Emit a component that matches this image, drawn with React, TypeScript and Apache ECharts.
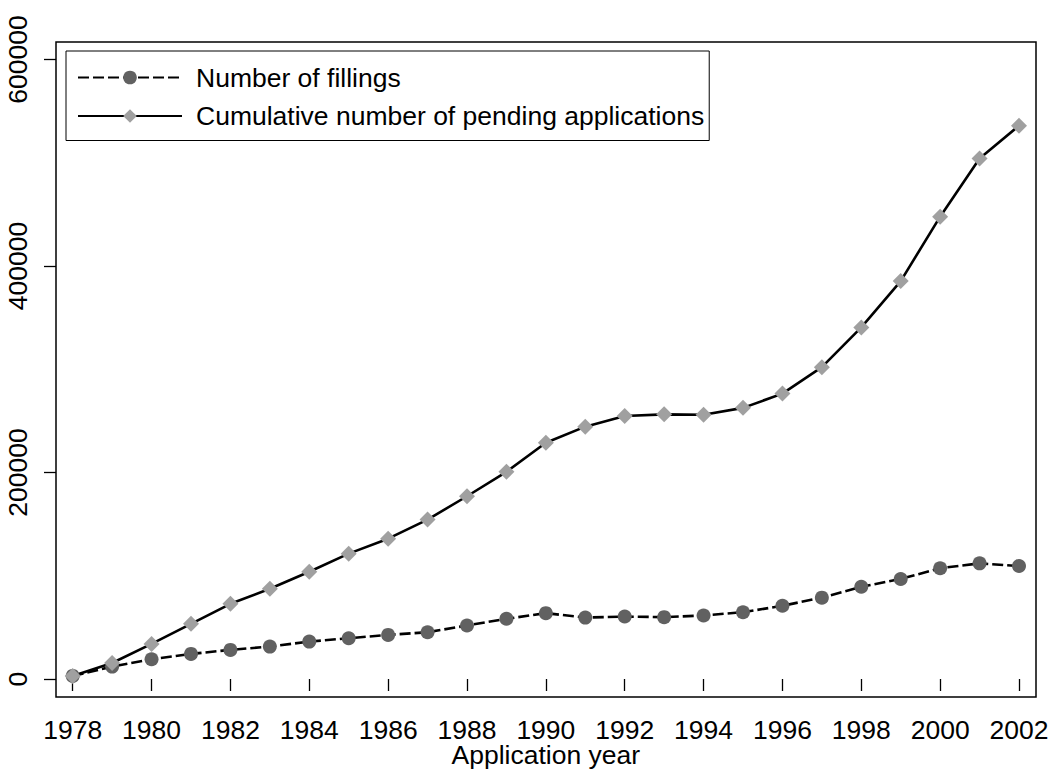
import React, { useEffect, useRef } from "react";
import * as echarts from "echarts";

const years = [1978, 1979, 1980, 1981, 1982, 1983, 1984, 1985, 1986, 1987, 1988, 1989, 1990, 1991, 1992, 1993, 1994, 1995, 1996, 1997, 1998, 1999, 2000, 2001, 2002];
const fillings = [3000, 12000, 19100, 24300, 28200, 31400, 36200, 39500, 42700, 45300, 51800, 58300, 63800, 59500, 60500, 59900, 61500, 64700, 70900, 78800, 89300, 96900, 107300, 112000, 109400];
const pending = [3000, 15500, 34000, 53400, 72800, 87400, 103900, 121400, 135900, 154400, 177000, 200700, 228800, 244400, 254700, 256300, 255900, 262600, 276400, 302000, 340500, 385400, 447800, 504200, 535900];
const seriesNames = ["Number of fillings", "Cumulative number of pending applications"];
const xTitle = "Application year";

const FONT = "'Liberation Sans', Arial, Helvetica, sans-serif";

export default function App() {
  const ref = useRef<HTMLDivElement>(null);
  useEffect(() => {
    if (!ref.current) return;
    const chart = echarts.init(ref.current, undefined, { renderer: "svg" });
    const fs = 26.5;
    chart.setOption({
      animation: false,
      backgroundColor: "#ffffff",
      textStyle: { fontFamily: FONT },
      grid: { left: 72.7, right: 32, top: 59.5, bottom: 90, outerBoundsMode: "none" },
      legend: {
        show: true,
        orient: "vertical",
        left: 66,
        top: 51,
        itemWidth: 104,
        itemHeight: 17,
        itemGap: 11.5,
        padding: [13, 5, 11, 11],
        borderColor: "#000",
        borderWidth: 1,
        backgroundColor: "#fff",
        textStyle: { fontSize: fs, color: "#000", fontFamily: FONT, padding: [0, 0, 0, 9] },
        data: seriesNames,
      },
      xAxis: {
        type: "value",
        min: 1978,
        max: 2002,
        interval: 2,
        offset: 18,
        name: xTitle,
        nameLocation: "middle",
        nameGap: 47,
        nameMoveOverlap: false,
        nameTextStyle: { fontSize: fs, lineHeight: 22, color: "#000", fontFamily: FONT },
        axisLine: { show: false },
        axisTick: { show: true, length: 12, lineStyle: { color: "#000", width: 1.3 } },
        axisLabel: { fontSize: fs, lineHeight: 22, color: "#000", fontFamily: FONT, margin: 21.5, formatter: (v: number) => String(v) },
        splitLine: { show: false },
      },
      yAxis: {
        type: "value",
        min: 0,
        max: 600000,
        interval: 200000,
        offset: 16.7,
        axisLine: { show: false },
        axisTick: { show: true, length: 12, lineStyle: { color: "#000", width: 1.3 } },
        axisLabel: { fontSize: fs, color: "#000", fontFamily: FONT, margin: 25, rotate: 90, formatter: (v: number) => String(v) },
        splitLine: { show: false },
      },
      graphic: [
        {
          type: "rect",
          z: 0,
          silent: true,
          shape: { x: 56, y: 42, width: 980, height: 655 },
          style: { fill: "none", stroke: "#000", lineWidth: 1.5 },
        },
      ],
      series: [
        {
          name: seriesNames[0],
          type: "line",
          clip: false,
          data: years.map((y, i) => [y, fillings[i]]),
          symbol: "circle",
          symbolSize: 14,
          itemStyle: { color: "#616161" },
          lineStyle: { color: "#000", width: 2.6, type: [11, 4] },
        },
        {
          name: seriesNames[1],
          type: "line",
          clip: false,
          data: years.map((y, i) => [y, pending[i]]),
          symbol: "diamond",
          symbolSize: 16,
          itemStyle: { color: "#a0a0a0" },
          lineStyle: { color: "#000", width: 2.6, type: "solid" },
        },
      ],
    });
    return () => chart.dispose();
  }, []);
  return <div ref={ref} style={{ position: "fixed", left: 0, top: 0, width: 1051, height: 769 }} />;
}
